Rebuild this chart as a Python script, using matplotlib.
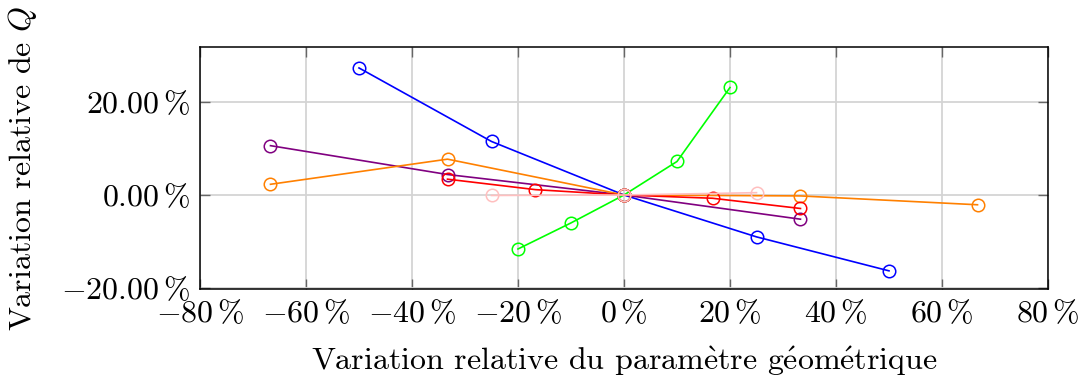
import matplotlib
matplotlib.use("Agg")
import matplotlib.pyplot as plt
from matplotlib.ticker import FuncFormatter, MultipleLocator

plt.rcParams["font.family"] = ["cmr10", "DejaVu Serif"]
plt.rcParams["mathtext.fontset"] = "cm"
plt.rcParams["axes.formatter.use_mathtext"] = True

# relative variation of each geometric parameter (%) -> relative variation of Q (%)
x_bleu = [-50, -25, 0, 25, 50]
y_bleu = [27.3, 11.5, 0.0, -9.0, -16.3]
x_vert = [-20, -10, 0, 10, 20]
y_vert = [-11.6, -6.0, 0.0, 7.2, 23.1]
x_violet = [-66.7, -33.3, 0, 33.3]
y_violet = [10.6, 4.4, 0.0, -5.2]
x_orange = [-66.7, -33.3, 0, 33.3, 66.7]
y_orange = [2.3, 7.7, 0.0, -0.2, -2.1]
x_rouge = [-33.3, -16.7, 0, 16.7, 33.3]
y_rouge = [3.4, 1.15, 0.0, -0.7, -2.9]
x_rose = [-25, 0, 25]
y_rose = [-0.1, 0.0, 0.5]

series = [
    (x_bleu, y_bleu, (0, 0, 1)),
    (x_vert, y_vert, (0, 1, 0)),
    (x_violet, y_violet, (0.5, 0, 0.5)),
    (x_orange, y_orange, (1, 0.5, 0)),
    (x_rouge, y_rouge, (1, 0, 0)),
    (x_rose, y_rose, (1, 0.75, 0.75)),
]

fig = plt.figure(figsize=(10.8, 3.78), dpi=100)
ax = fig.add_axes([200 / 1080, 1 - 289 / 378, 848 / 1080, 242 / 378])

for xs, ys, c in series:
    ax.plot(xs, ys, color=c, lw=1.2, marker="o", ms=9, mfc="none", mec=c, mew=1.1, zorder=3)

ax.set_xlim(-80, 80)
ax.set_ylim(-20.2, 31.8)
ax.xaxis.set_major_locator(MultipleLocator(20))
ax.yaxis.set_major_locator(MultipleLocator(20))
ax.xaxis.set_major_formatter(FuncFormatter(
    lambda v, p: r"$%s%d\,\%%$" % ("-" if v < 0 else "", abs(round(v)))))
ax.yaxis.set_major_formatter(FuncFormatter(
    lambda v, p: r"$%s%.2f\,\%%$" % ("-" if v < -1e-9 else "", abs(v))))

ax.grid(True, color="#d4d4d4", lw=1.3, zorder=0)
ax.set_axisbelow(True)
ax.tick_params(direction="in", top=True, right=True, length=7, width=1.0,
               color="#666666", labelsize=23, pad=7)
for s in ax.spines.values():
    s.set_linewidth(1.1)

ax.set_xlabel(r"Variation relative du param$\grave{\mathrm{e}}$tre g$\acute{\mathrm{e}}$om$\acute{\mathrm{e}}$trique",
              fontsize=23, labelpad=12)
ax.set_ylabel(r"Variation relative de $Q$", fontsize=23, labelpad=16)

fig.savefig("out.png", dpi=100)
